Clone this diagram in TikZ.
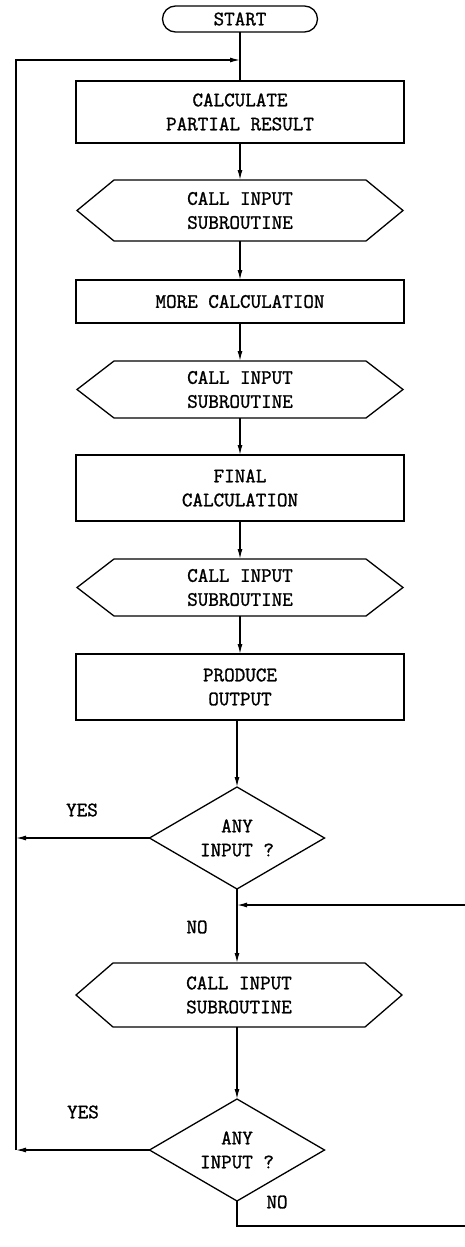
\documentclass[tikz,border=0pt]{standalone}
\usepackage{fontspec}
\newfontfamily\flowfont{Latin Modern Mono}[FakeBold=1.3]
\usetikzlibrary{shapes.geometric,arrows.meta}
\begin{document}
\begin{tikzpicture}[x=1pt,y=-1pt, line width=1.3pt,
  every node/.style={font=\flowfont\fontsize{20.5}{24}\selectfont, align=center, inner sep=0pt, outer sep=0pt},
  procbox/.style={draw, rectangle, minimum width=328pt},
  hexnode/.style={rectangle, minimum width=326pt},
  decide/.style={draw, diamond, aspect=1.73, minimum width=175pt, minimum height=102pt},
  termnode/.style={draw, rectangle, rounded corners=13pt, minimum width=155pt, minimum height=26pt},
  flow/.style={-{Latex[length=10pt,width=5pt]}}]
\useasboundingbox (0,0) rectangle (465,1247);

\node[termnode] (start) at (240,19) {START};
\node[procbox, minimum height=62pt] (b1) at (240,112) {CALCULATE\\PARTIAL RESULT};
\node[hexnode, minimum height=61pt] (h1) at (240,210.5) {CALL INPUT\\SUBROUTINE};
\node[procbox, minimum height=43pt] (b2) at (240,301.5) {MORE CALCULATION};
\node[hexnode, minimum height=57pt] (h2) at (240,389.5) {CALL INPUT\\SUBROUTINE};
\node[procbox, minimum height=66pt] (b3) at (240,488) {FINAL\\CALCULATION};
\node[hexnode, minimum height=57pt] (h3) at (240,587.5) {CALL INPUT\\SUBROUTINE};
\node[procbox, minimum height=66pt] (b4) at (240,687) {PRODUCE\\OUTPUT};
\node[decide] (d1) at (237,838) {ANY\\INPUT ?};
\node[hexnode, minimum height=64pt] (h4) at (239,995) {CALL INPUT\\SUBROUTINE};
\node[decide] (d2) at (237,1150) {ANY\\INPUT ?};

\foreach \n in {h1,h2,h3,h4}
  \draw (\n.west) -- ([xshift=37pt]\n.north west) -- ([xshift=-37pt]\n.north east)
        -- (\n.east) -- ([xshift=-37pt]\n.south east) -- ([xshift=37pt]\n.south west) -- cycle;

\node (yes1) at (82,810) {YES};
\node (yes2) at (83,1112) {YES};
\node (no1) at (197,927) {NO};
\node (no2) at (277,1202) {NO};

\coordinate (j1) at (240,60);
\coordinate (L1) at (16,60);
\coordinate (Ly1) at (16,838);
\coordinate (Ly2) at (16,1150);
\coordinate (j2) at (237,905);
\coordinate (R1) at (467,905);
\coordinate (R2) at (467,1226);
\coordinate (Bt) at (237,1226);

\draw (start.south) -- (b1.north);
\draw[flow] (b1.south) -- (h1.north);
\draw[flow] (h1.south) -- (b2.north);
\draw[flow] (b2.south) -- (h2.north);
\draw[flow] (h2.south) -- (b3.north);
\draw[flow] (b3.south) -- (h3.north);
\draw[flow] (h3.south) -- (b4.north);
\draw[flow] (d1.north |- b4.south) -- (d1.north);
\draw (d1.south) -- (j2);
\draw[flow] (j2) -- (j2 |- h4.north);
\draw[flow] (d2.north |- h4.south) -- (d2.north);
\draw[flow] (d1.west) -- (Ly1);
\draw[flow] (d2.west) -- (Ly2);
\draw[flow] (Ly2) -- (L1) -- (j1);
\draw[flow] (d2.south) -- (Bt) -- (R2) -- (R1) -- (j2);
\end{tikzpicture}
\end{document}
